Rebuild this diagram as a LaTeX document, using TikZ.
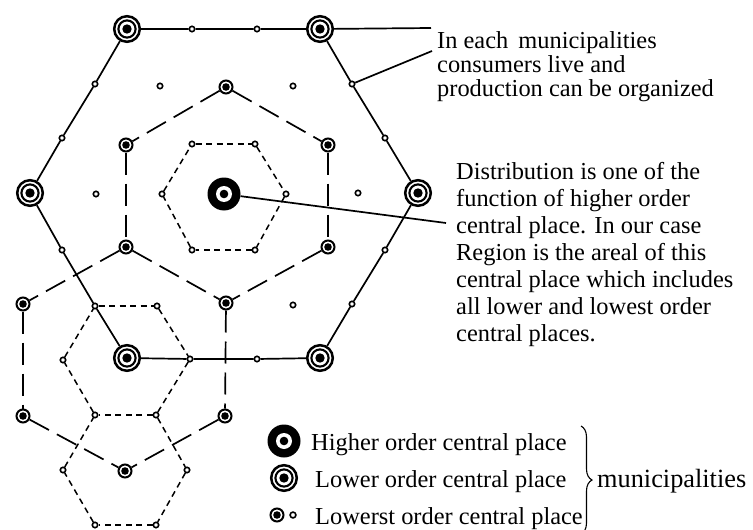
\documentclass[tikz,border=0pt]{standalone}
\usepackage{fontspec}
\setmainfont{Liberation Serif}
\usetikzlibrary{decorations.pathreplacing}
\begin{document}
\begin{tikzpicture}[x=1pt,y=-1pt,
 hi/.style={circle, fill=black, minimum size=33pt, inner sep=0pt,
   path picture={\fill[white] (path picture bounding box.center) circle (8pt);
                 \fill[black] (path picture bounding box.center) circle (4.3pt);}},
 lo/.style={circle, draw=black, line width=2.5pt, fill=white, minimum size=25.6pt, inner sep=0pt,
   path picture={\draw[black, line width=2.1pt] (path picture bounding box.center) circle (8.6pt);
                 \fill[black] (path picture bounding box.center) circle (4.7pt);}},
 mid/.style={circle, draw=black, line width=2pt, fill=white, minimum size=13pt, inner sep=0pt,
   path picture={\fill[black] (path picture bounding box.center) circle (3.8pt);}},
 sm/.style={circle, draw=black, line width=1.6pt, fill=white, minimum size=5.4pt, inner sep=0pt},
 solidline/.style={line width=1.7pt},
 longdash/.style={line width=1.7pt, dash pattern=on 22pt off 9pt},
 shortdash/.style={line width=1.5pt, dash pattern=on 6pt off 4.5pt},
 lab/.style={anchor=base west, inner sep=0pt, font=\fontsize{24.4}{28}\selectfont},
]
\useasboundingbox (0,0) rectangle (753,530);

% higher order centre
\node[hi] (H) at (224,194) {};
% lower order places (big hexagon)
\node[lo] (L1) at (127,29) {};
\node[lo] (L2) at (320,29) {};
\node[lo] (L3) at (418,193) {};
\node[lo] (L4) at (320,358) {};
\node[lo] (L5) at (127,358) {};
\node[lo] (L6) at (30,193) {};
% lowest order on big hexagon
\node[sm] (t1) at (192,29) {};
\node[sm] (t2) at (257,29) {};
\node[sm] (ur1) at (352,84) {};
\node[sm] (ur2) at (385,138) {};
\node[sm] (lr1) at (385,250) {};
\node[sm] (lr2) at (352,304) {};
\node[sm] (b2) at (257,359) {};
\node[sm] (b1) at (190,359) {};
\node[sm] (ll1) at (95,306) {};
\node[sm] (ll2) at (62,250) {};
\node[sm] (ul1) at (62,138) {};
\node[sm] (ul2) at (95,84) {};
% medium (lowest order with dot)
\node[mid] (M1) at (226,87) {};
\node[mid] (M2) at (126,145) {};
\node[mid] (M3) at (328,145) {};
\node[mid] (M4) at (126,247) {};
\node[mid] (M5) at (328,247) {};
\node[mid] (M6) at (226,303) {};
\node[mid] (M7) at (23,304) {};
\node[mid] (M8) at (23,416) {};
\node[mid] (M9) at (225,416) {};
\node[mid] (M10) at (125,471) {};
% small hexagon around centre
\node[sm] (S1) at (192,144) {};
\node[sm] (S2) at (255,144) {};
\node[sm] (S3) at (286,194) {};
\node[sm] (S4) at (255,250) {};
\node[sm] (S5) at (192,250) {};
\node[sm] (S6) at (162,194) {};
% free small circles
\node[sm] (f1) at (160,86) {};
\node[sm] (f2) at (293,86) {};
\node[sm] (f3) at (96,194) {};
\node[sm] (f4) at (358,193) {};
\node[sm] (f5) at (293,305) {};
% lower-left small hexagons
\node[sm] (q1) at (157,306) {};
\node[sm] (q2) at (156,415) {};
\node[sm] (q3) at (95,415) {};
\node[sm] (q4) at (63,360) {};
\node[sm] (q5) at (187,470) {};
\node[sm] (q6) at (156,525) {};
\node[sm] (q7) at (95,525) {};
\node[sm] (q8) at (63,470) {};

% big solid hexagon
\draw[solidline] (L1) -- (t1) -- (t2) -- (L2) -- (ur1) -- (ur2) -- (L3) -- (lr1) -- (lr2) -- (L4)
  -- (b2) -- (b1) -- (L5) -- (ll1) -- (ll2) -- (L6) -- (ul1) -- (ul2) -- (L1);

% long dashed medium hexagons
\foreach \a/\b in {M1/M2, M1/M3, M2/M4, M3/M5, M4/M6, M5/M6, M4/M7, M7/M8, M8/M10, M9/M10, M6/M9}
  \draw[longdash] (\a) -- (\b);

% short dashed small hexagons
\foreach \a/\b in {S1/S2, S2/S3, S3/S4, S4/S5, S5/S6, S6/S1,
                   ll1/q1, q1/b1, b1/q2, q2/q3, q3/q4, q4/ll1,
                   q2/q5, q5/q6, q6/q7, q7/q8, q8/q3}
  \draw[shortdash] (\a) -- (\b);

% leaders
\coordinate (e1) at (431,28);
\coordinate (e2) at (432,51);
\coordinate (e3) at (446,223);
\draw[solidline] (L2) -- (e1);
\draw[solidline] (ur1) -- (e2);
\draw[solidline] (H) -- (e3);

% texts
\node[lab] (ta) at (437,48.5) {In each\ \,municipalities};
\node[lab] (tb) at (437,72.5) {consumers live and};
\node[lab] (tc) at (437,96.5) {production can be organized};

\node[lab] (da) at (456,179.5) {Distribution is one of the};
\node[lab] (db) at (456,206.5) {function of higher order};
\node[lab] (dc) at (456,233.5) {central place. In our case};
\node[lab] (dd) at (456,260.5) {Region is the areal of this};
\node[lab] (de) at (456,287.5) {central place which includes};
\node[lab] (df) at (456,314.5) {all lower and lowest order};
\node[lab] (dg) at (456,341.5) {central places.};

% legend
\node[hi] (kh) at (284,441) {};
\node[lo] (kl) at (284,478) {};
\node[mid] (km) at (277,515) {};
\node[sm, minimum size=5.8pt] (ks) at (293,515) {};
\node[lab] (kht) at (311,450) {Higher order central place};
\node[lab] (klt) at (315,487) {Lower order central place};
\node[lab] (kmt) at (315,524) {Lowerst order central place};
\coordinate (br1) at (581,426);
\coordinate (br2) at (581,534);
\draw[decorate, decoration={brace, amplitude=11pt}, line width=1.1pt] (br1) -- (br2);
\node[lab, font=\fontsize{26.3}{28}\selectfont] (mun) at (597,487) {municipalities};
\end{tikzpicture}
\end{document}
